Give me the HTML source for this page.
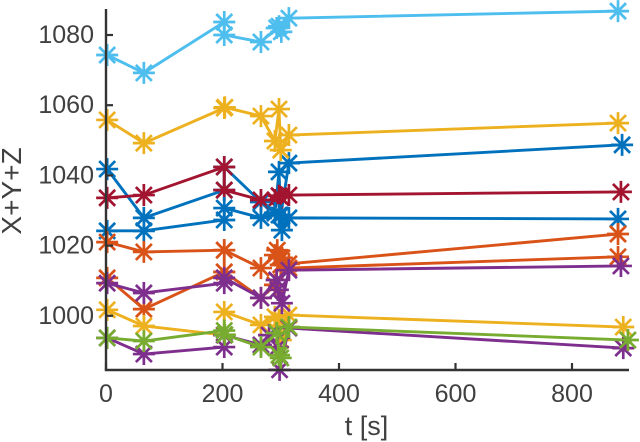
<!DOCTYPE html>
<html lang="en">
<head>
<meta charset="utf-8">
<title>X+Y+Z vs t</title>
<style>
html,body{margin:0;padding:0;background:#fff;}
#chart{display:block;width:640px;height:442px;}
text{font-family:"Liberation Sans",sans-serif;fill:#404040;}
</style>
</head>
<body>
<svg id="chart" xmlns="http://www.w3.org/2000/svg" width="640" height="442" viewBox="0 0 640 442">
  <g id="series-layer"></g>
  <g id="axes-layer"></g>
  <text x="366.5" y="435" font-size="27" text-anchor="middle">t [s]</text>
  <text transform="translate(21,191) rotate(-90)" font-size="28" text-anchor="middle">X+Y+Z</text>
</svg>
<script>
const xTicks = [0, 200, 400, 600, 800];
const yTicks = [1000, 1020, 1040, 1060, 1080];

const blueATimes = [2, 65, 203, 203, 266, 290, 297, 300, 314, 886];
const blueAValues = [1041.8, 1027.9, 1035.8, 1042.4, 1032.4, 1029.3, 1041, 1028.7, 1043.5, 1048.7];

const orangeATimes = [2, 65, 203, 203, 266, 290, 297, 300, 314, 879];
const orangeAValues = [1010.8, 1001.9, 1012.5, 1012.5, 1005.1, 1008.8, 1016.5, 1014.5, 1013.6, 1016.8];

const yellowATimes = [2, 65, 203, 203, 266, 290, 297, 300, 314, 888];
const yellowAValues = [1001.7, 997.1, 994.5, 1001.1, 997.4, 999.7, 998.8, 993.1, 1000.2, 996.8];

const purpleATimes = [2, 65, 203, 203, 266, 280, 295, 298, 314, 888];
const purpleAValues = [993.7, 989.1, 991.1, 994.5, 991.7, 994.5, 991.1, 984.6, 996.5, 990.8];

const greenTimes = [2, 65, 203, 204, 266, 293, 297, 300, 314, 896];
const greenValues = [993.7, 992.8, 995.8, 994.6, 991.1, 995.1, 988.8, 988, 996.8, 993.1];

const skyTimes = [2, 65, 203, 203, 266, 293, 297, 301, 314, 879];
const skyValues = [1074.3, 1069.2, 1083.7, 1080, 1078, 1082, 1082.5, 1080.9, 1084.8, 1086.8];

const redTimes = [2, 65, 203, 203, 266, 290, 297, 300, 314, 884];
const redValues = [1033.6, 1034.4, 1042.4, 1035.8, 1033, 1033, 1034.2, 1033.8, 1034.4, 1035.3];

const blueBTimes = [2, 65, 203, 203, 266, 290, 297, 302, 314, 879];
const blueBValues = [1024.2, 1024.2, 1027.3, 1030.7, 1027.9, 1029.3, 1028.7, 1024.4, 1027.9, 1027.6];

const orangeBTimes = [2, 65, 203, 203, 266, 290, 294, 302, 314, 879];
const orangeBValues = [1021, 1018.2, 1018.7, 1018.7, 1013.6, 1017.3, 1018.7, 1016.5, 1014.8, 1023.3];

const yellowBTimes = [2, 65, 203, 204, 266, 290, 297, 300, 314, 879];
const yellowBValues = [1055.8, 1049.2, 1059.2, 1059.4, 1056.9, 1049.8, 1058.9, 1047.2, 1051.5, 1054.9];

const purpleBTimes = [2, 65, 203, 203, 266, 293, 295, 302, 314, 884];
const purpleBValues = [1009.3, 1006.5, 1009.3, 1010.8, 1005.1, 1010.2, 1007.4, 1003.6, 1013, 1014.2];

const seriesNames = ['blue-a', 'orange-a', 'yellow-a', 'purple-a', 'green', 'sky', 'red', 'blue-b', 'orange-b', 'yellow-b', 'purple-b'];
const seriesColors = ['#0072BD', '#D95319', '#EDB120', '#7E2F8E', '#77AC30', '#4DBEEE', '#A2142F', '#0072BD', '#D95319', '#EDB120', '#7E2F8E'];
const seriesTimes = [blueATimes, orangeATimes, yellowATimes, purpleATimes, greenTimes, skyTimes, redTimes, blueBTimes, orangeBTimes, yellowBTimes, purpleBTimes];
const seriesValues = [blueAValues, orangeAValues, yellowAValues, purpleAValues, greenValues, skyValues, redValues, blueBValues, orangeBValues, yellowBValues, purpleBValues];

const NS = 'http://www.w3.org/2000/svg';
function xScale(t) { return 106 + t * 0.5825; }
function yScale(v) { return 35 + (1080 - v) * 3.51; }

function make(tag, attrs, parent) {
  const el = document.createElementNS(NS, tag);
  for (const k in attrs) el.setAttribute(k, attrs[k]);
  parent.appendChild(el);
  return el;
}

const seriesLayer = document.getElementById('series-layer');
const axesLayer = document.getElementById('axes-layer');

const axisColor = '#333333';
const xAxisY = 370;
const yAxisX = 106;

const xAxisLine = make('line', { x1: yAxisX - 1.2, x2: 629, y1: xAxisY, y2: xAxisY, stroke: axisColor, 'stroke-width': 2.4 }, axesLayer);



const yAxisLine = make('line', { x1: yAxisX, x2: yAxisX, y1: 9, y2: xAxisY, stroke: axisColor, 'stroke-width': 2.4 }, axesLayer);



xTicks.forEach(function (t) {
  const x = xScale(t);
  const tick = make('line', { x1: x, x2: x, y1: xAxisY, y2: xAxisY - 7, stroke: axisColor, 'stroke-width': 2.2 }, axesLayer);
  
  
  const label = make('text', { x: x, y: 402, 'font-size': 25, 'text-anchor': 'middle' }, axesLayer);
  label.textContent = String(t);
  
  
});

yTicks.forEach(function (v) {
  const y = yScale(v);
  const tick = make('line', { x1: yAxisX, x2: yAxisX + 7, y1: y, y2: y, stroke: axisColor, 'stroke-width': 2.2 }, axesLayer);
  
  
  const label = make('text', { x: 94, y: y + 8, 'font-size': 25, 'text-anchor': 'end' }, axesLayer);
  label.textContent = String(v);
  
  
});

seriesNames.forEach(function (name, i) {
  const g = make('g', { stroke: seriesColors[i], fill: 'none' }, seriesLayer);
  
  
  const pts = seriesTimes[i].map(function (t, j) {
    return [xScale(t), yScale(seriesValues[i][j])];
  });
  const line = make('polyline', {
    points: pts.map(function (p) { return p[0].toFixed(2) + ',' + p[1].toFixed(2); }).join(' '),
    'stroke-width': 2.9,
    'stroke-linejoin': 'round'
  }, g);
  
  
  pts.forEach(function (p) {
    const r = 11, d = 8;
    const x = p[0], y = p[1];
    const marker = make('path', {
      d: 'M' + (x - r) + ' ' + y + 'H' + (x + r) +
         'M' + x + ' ' + (y - r) + 'V' + (y + r) +
         'M' + (x - d) + ' ' + (y - d) + 'L' + (x + d) + ' ' + (y + d) +
         'M' + (x - d) + ' ' + (y + d) + 'L' + (x + d) + ' ' + (y - d),
      'stroke-width': 2.7
    }, g);
    
    
  });
});
</script>
</body>
</html>
